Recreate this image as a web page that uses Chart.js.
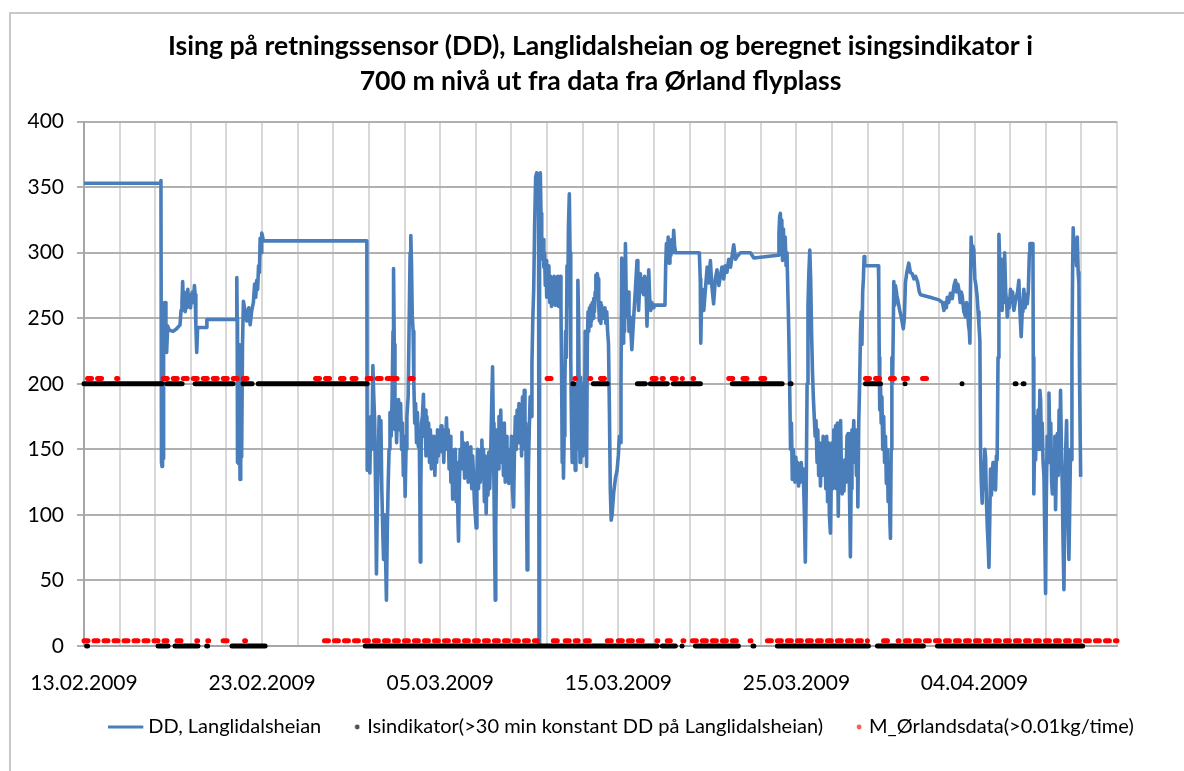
<!DOCTYPE html>
<html lang="no">
<head>
<meta charset="utf-8">
<title>Ising på retningssensor (DD), Langlidalsheian</title>
<script src="https://cdn.jsdelivr.net/npm/chart.js@4.4.1/dist/chart.umd.min.js"></script>
<style>
  html, body { margin: 0; padding: 0; background: #fff; overflow: hidden; }
  #wrap { position: relative; width: 1260px; height: 771px; }
  #frame { position: absolute; left: 9px; top: 12px; width: 1400px; height: 900px;
           border-left: 2px solid #c8c8c8; border-top: 2px solid #c8c8c8; pointer-events: none; }
</style>
</head>
<body>
<div id="wrap">
  <canvas id="chart" width="1260" height="771"></canvas>
  <div id="frame"></div>
</div>
<script>
// x values are days after 13.02.2009 00:00
const startDate = Date.UTC(2009, 1, 13);
const axisDays = 58;

const titleLines = [
  "Ising på retningssensor (DD), Langlidalsheian og beregnet isingsindikator i",
  "700 m nivå ut fra data fra Ørland flyplass"
];
const seriesNames = [
  "DD, Langlidalsheian",
  "Isindikator(>30 min konstant DD på Langlidalsheian)",
  "M_Ørlandsdata(>0.01kg/time)"
];

// wind direction DD at Langlidalsheian, [day, degrees]
const ddTrace = [
  [0, 353], [4.28, 353], [4.32, 355], [4.35, 140], [4.38, 137], [4.41, 262], [4.44, 143], [4.47, 258], [4.52, 240],
  [4.56, 262], [4.6, 236], [4.64, 224], [4.7, 244], [4.78, 241], [5.0, 240], [5.2, 242], [5.39, 245], [5.45, 256],
  [5.5, 262], [5.54, 278], [5.58, 258], [5.63, 270], [5.68, 255], [5.73, 265], [5.78, 258], [5.83, 272], [5.88, 260],
  [5.93, 268], [5.98, 258], [6.03, 265], [6.08, 270], [6.14, 262], [6.2, 275], [6.24, 268], [6.28, 245], [6.33, 224],
  [6.38, 243], [6.88, 243], [6.9, 249], [8.55, 249], [8.58, 281], [8.6, 250], [8.62, 140], [8.65, 200], [8.68, 139],
  [8.72, 230], [8.76, 127], [8.8, 180], [8.85, 144], [8.9, 230], [8.95, 263], [9.05, 255], [9.14, 248], [9.25, 258],
  [9.33, 245], [9.42, 256], [9.51, 262], [9.58, 276], [9.64, 266], [9.7, 279], [9.75, 272], [9.8, 290], [9.85, 285],
  [9.89, 311], [9.94, 300], [9.98, 315], [10.03, 312], [10.07, 309], [15.88, 309],
  [15.9, 134], [15.95, 167], [16.0, 140], [16.05, 132], [16.1, 175], [16.16, 150], [16.22, 214], [16.27, 190],
  [16.32, 172], [16.37, 120], [16.42, 55], [16.47, 110], [16.52, 142], [16.57, 175], [16.62, 160], [16.67, 172],
  [16.72, 120], [16.78, 85], [16.82, 66], [16.88, 100], [16.93, 70], [16.98, 35], [17.03, 90], [17.08, 124],
  [17.13, 150], [17.18, 178], [17.25, 160], [17.3, 190], [17.35, 240], [17.38, 288], [17.42, 230], [17.46, 165],
  [17.5, 188], [17.55, 155], [17.6, 180], [17.66, 188], [17.72, 165], [17.78, 185], [17.83, 150], [17.88, 170],
  [17.93, 130], [17.98, 160], [18.03, 114], [18.08, 150], [18.13, 175], [18.2, 190], [18.26, 250], [18.31, 300],
  [18.35, 313], [18.39, 290], [18.43, 252], [18.48, 240], [18.52, 200], [18.57, 170], [18.62, 185], [18.67, 155],
  [18.72, 178], [18.77, 152], [18.82, 165], [18.86, 110], [18.88, 64], [18.91, 120], [18.95, 170], [19.0, 175],
  [19.06, 192], [19.1, 160], [19.15, 180], [19.2, 145], [19.25, 175], [19.3, 150], [19.35, 170], [19.4, 140],
  [19.45, 165], [19.5, 135], [19.55, 160], [19.6, 145], [19.65, 160], [19.7, 130], [19.75, 155], [19.8, 140],
  [19.85, 165], [19.9, 145], [19.95, 160], [20.0, 150], [20.05, 168], [20.1, 148], [20.15, 162], [20.2, 140],
  [20.25, 165], [20.3, 150], [20.35, 174], [20.4, 155], [20.45, 165], [20.5, 135], [20.55, 160], [20.6, 125],
  [20.65, 150], [20.7, 112], [20.75, 145], [20.8, 120], [20.85, 150], [20.9, 110], [20.95, 140], [21.0, 95],
  [21.03, 80], [21.07, 120], [21.12, 150], [21.17, 140], [21.22, 163], [21.27, 135], [21.32, 155], [21.37, 128],
  [21.42, 150], [21.47, 130], [21.52, 155], [21.57, 125], [21.62, 148], [21.67, 135], [21.72, 152], [21.77, 120],
  [21.82, 145], [21.87, 130], [21.92, 110], [21.97, 100], [22.02, 90], [22.06, 130], [22.1, 150], [22.15, 120],
  [22.2, 145], [22.25, 125], [22.3, 150], [22.34, 157], [22.38, 135], [22.43, 150], [22.48, 110], [22.53, 145],
  [22.58, 101], [22.63, 140], [22.68, 115], [22.73, 148], [22.78, 120], [22.84, 150], [22.9, 190], [22.94, 213],
  [22.98, 170], [23.02, 120], [23.06, 70], [23.09, 35], [23.12, 90], [23.16, 140], [23.2, 165], [23.25, 135],
  [23.3, 175], [23.35, 150], [23.4, 180], [23.45, 140], [23.5, 165], [23.55, 130], [23.6, 170], [23.65, 125],
  [23.7, 160], [23.75, 135], [23.8, 150], [23.85, 124], [23.9, 150], [23.95, 130], [24.0, 160], [24.05, 120],
  [24.12, 106], [24.17, 150], [24.22, 175], [24.27, 150], [24.32, 180], [24.37, 155], [24.42, 185], [24.47, 160],
  [24.52, 175], [24.57, 145], [24.62, 190], [24.67, 160], [24.72, 195], [24.76, 150], [24.8, 170], [24.84, 120],
  [24.88, 58], [24.92, 100], [24.96, 140], [25.0, 165], [25.05, 190], [25.1, 175], [25.15, 215], [25.2, 250],
  [25.25, 272], [25.3, 320], [25.36, 358], [25.42, 361], [25.48, 356], [25.52, 360], [25.55, 0], [25.58, 352],
  [25.62, 361], [25.66, 330], [25.7, 312], [25.74, 295], [25.78, 310], [25.82, 289], [25.86, 300], [25.9, 275],
  [25.94, 294], [25.98, 266], [26.02, 285], [26.06, 270], [26.1, 290], [26.15, 262], [26.2, 282], [26.25, 259],
  [26.3, 278], [26.35, 262], [26.4, 282], [26.45, 260], [26.5, 275], [26.55, 265], [26.6, 282], [26.65, 259],
  [26.7, 270], [26.74, 282], [26.78, 260], [26.82, 200], [26.85, 140], [26.88, 180], [26.92, 128], [26.96, 160],
  [27.0, 200], [27.04, 240], [27.08, 220], [27.12, 290], [27.16, 260], [27.2, 320], [27.25, 345], [27.29, 300],
  [27.33, 220], [27.37, 170], [27.41, 140], [27.45, 190], [27.5, 160], [27.54, 200], [27.58, 134], [27.62, 180],
  [27.66, 150], [27.7, 200], [27.73, 279], [27.77, 250], [27.81, 180], [27.85, 140], [27.89, 205], [27.93, 150],
  [27.97, 190], [28.01, 145], [28.05, 200], [28.1, 160], [28.14, 240], [28.18, 220], [28.22, 137], [28.26, 230],
  [28.3, 255], [28.34, 240], [28.38, 258], [28.42, 244], [28.46, 260], [28.5, 248], [28.54, 262], [28.58, 250],
  [28.62, 265], [28.66, 255], [28.7, 270], [28.74, 283], [28.78, 282], [28.82, 284], [28.86, 280], [28.9, 260],
  [28.94, 248], [28.98, 262], [29.02, 246], [29.06, 260], [29.1, 250], [29.14, 255], [29.2, 250], [29.25, 258],
  [29.3, 246], [29.35, 255], [29.4, 240], [29.45, 230], [29.5, 180], [29.55, 120], [29.6, 96], [29.65, 100],
  [29.74, 117], [29.84, 128], [29.93, 134], [30.0, 145], [30.06, 160], [30.11, 155], [30.15, 200], [30.19, 296],
  [30.23, 250], [30.27, 231], [30.3, 269], [30.35, 240], [30.4, 307], [30.45, 260], [30.5, 251], [30.55, 270],
  [30.6, 240], [30.67, 251], [30.76, 226], [30.86, 250], [30.96, 272], [31.05, 294], [31.1, 270], [31.14, 256],
  [31.2, 275], [31.24, 284], [31.3, 270], [31.36, 280], [31.42, 268], [31.48, 282], [31.55, 277], [31.61, 244],
  [31.66, 270], [31.71, 287], [31.76, 266], [31.82, 256], [31.88, 262], [31.95, 258], [32.0, 260], [32.62, 260],
  [32.66, 290], [32.7, 307], [32.75, 295], [32.8, 312], [32.85, 292], [32.9, 305], [32.95, 298], [33.0, 310],
  [33.06, 300], [33.11, 317], [33.16, 305], [33.22, 300], [34.55, 300], [34.6, 280], [34.63, 231], [34.67, 260],
  [34.72, 272], [34.8, 256], [34.9, 274], [34.99, 289], [35.08, 277], [35.17, 294], [35.25, 275], [35.35, 261],
  [35.45, 280], [35.54, 287], [35.65, 275], [35.73, 282], [35.82, 289], [35.92, 280], [36.0, 290], [36.1, 285],
  [36.2, 295], [36.3, 289], [36.48, 306], [36.58, 295], [36.67, 297], [36.86, 300], [37.42, 300], [37.61, 296],
  [38.98, 298], [39.02, 315], [39.06, 328],
  [39.1, 330], [39.14, 300], [39.18, 325], [39.22, 294], [39.27, 318], [39.32, 295], [39.37, 312], [39.42, 290],
  [39.47, 300], [39.52, 270], [39.57, 240], [39.62, 200], [39.67, 150], [39.72, 170], [39.77, 127], [39.82, 150],
  [39.87, 140], [39.92, 125], [39.97, 144], [40.02, 130], [40.07, 140], [40.12, 122], [40.17, 138], [40.22, 125],
  [40.27, 140], [40.32, 128], [40.37, 135], [40.4, 125], [40.45, 100], [40.5, 64], [40.55, 120], [40.6, 200],
  [40.65, 260], [40.7, 285], [40.75, 302], [40.8, 280], [40.85, 240], [40.9, 210], [40.95, 190], [41.0, 175],
  [41.05, 160], [41.1, 172], [41.16, 140], [41.2, 165], [41.25, 130], [41.3, 155], [41.35, 122], [41.4, 150],
  [41.45, 130], [41.5, 160], [41.55, 135], [41.6, 150], [41.65, 120], [41.7, 160], [41.75, 110], [41.8, 155],
  [41.85, 100], [41.91, 86], [41.96, 130], [42.0, 155], [42.05, 120], [42.1, 165], [42.15, 140], [42.2, 168],
  [42.25, 120], [42.3, 170], [42.35, 99], [42.4, 160], [42.45, 130], [42.48, 172], [42.52, 140], [42.57, 116],
  [42.62, 140], [42.67, 118], [42.72, 142], [42.78, 125], [42.84, 160], [42.9, 162], [42.95, 140], [43.0, 100],
  [43.03, 68], [43.07, 120], [43.12, 165], [43.17, 150], [43.22, 172], [43.27, 140], [43.32, 165], [43.37, 130],
  [43.42, 150], [43.45, 106], [43.5, 170], [43.55, 200], [43.6, 240], [43.64, 255], [43.68, 230], [43.72, 270],
  [43.76, 280], [43.8, 297], [43.84, 290], [44.6, 290], [44.62, 280], [44.65, 220], [44.68, 180], [44.72, 200],
  [44.76, 170], [44.8, 190], [44.85, 150], [44.9, 175], [44.95, 140], [45.0, 160], [45.05, 124], [45.1, 150],
  [45.15, 110], [45.2, 140], [45.25, 95], [45.28, 82], [45.32, 150], [45.36, 220], [45.4, 200], [45.47, 278],
  [45.52, 260], [45.56, 275], [45.65, 267], [45.72, 262], [45.8, 256], [45.9, 250], [46.0, 242], [46.06, 250],
  [46.12, 277], [46.2, 285], [46.31, 292], [46.4, 285], [46.5, 284], [46.6, 280], [46.69, 282], [46.8, 278],
  [46.9, 270], [46.97, 268], [47.5, 266], [48.0, 264], [48.2, 262], [48.28, 256], [48.35, 262], [48.42, 258],
  [48.47, 266], [48.55, 262], [48.65, 269], [48.75, 265], [48.85, 275], [48.93, 279], [49.0, 270], [49.06, 276],
  [49.12, 272], [49.2, 262], [49.26, 270], [49.31, 267], [49.4, 255], [49.5, 251], [49.55, 262], [49.6, 259],
  [49.66, 245], [49.71, 240], [49.74, 231], [49.78, 280], [49.81, 312], [49.86, 290], [49.91, 305], [49.96, 302],
  [50.02, 280], [50.08, 275], [50.15, 266], [50.2, 255], [50.25, 245], [50.3, 233], [50.34, 150], [50.38, 125],
  [50.43, 109], [50.48, 140], [50.53, 120], [50.58, 150], [50.62, 144], [50.67, 110], [50.72, 90], [50.77, 75],
  [50.81, 60], [50.86, 100], [50.9, 135], [50.95, 115], [50.99, 129], [51.04, 140], [51.09, 120], [51.14, 135],
  [51.18, 119], [51.23, 145], [51.27, 142], [51.32, 220], [51.37, 314], [51.42, 290], [51.47, 270], [51.51, 295],
  [51.55, 256], [51.6, 280], [51.65, 262], [51.69, 300], [51.75, 270], [51.8, 262], [51.84, 251], [51.9, 265],
  [51.96, 258], [52.02, 272], [52.08, 262], [52.14, 270], [52.21, 256], [52.28, 262], [52.36, 267], [52.42, 270],
  [52.49, 279], [52.55, 255], [52.62, 236], [52.68, 255], [52.72, 262], [52.77, 272], [52.84, 258], [52.9, 268],
  [52.96, 261], [53.02, 270], [53.08, 300], [53.11, 307], [53.28, 307], [53.3, 220], [53.33, 116], [53.38, 160],
  [53.43, 142], [53.48, 175], [53.52, 155], [53.57, 180], [53.62, 150], [53.67, 195], [53.71, 188], [53.76, 150],
  [53.8, 170], [53.85, 140], [53.9, 129], [53.94, 90], [53.99, 40], [54.03, 110], [54.08, 160], [54.13, 140],
  [54.18, 193], [54.23, 150], [54.28, 170], [54.33, 125], [54.37, 116], [54.42, 150], [54.47, 130], [54.51, 160],
  [54.55, 104], [54.6, 140], [54.65, 162], [54.7, 130], [54.75, 180], [54.79, 150], [54.83, 195], [54.88, 150],
  [54.93, 120], [54.97, 80], [55.02, 43], [55.07, 110], [55.12, 150], [55.17, 172], [55.22, 120], [55.26, 90],
  [55.3, 66], [55.35, 110], [55.39, 150], [55.43, 142], [55.47, 220], [55.51, 290], [55.54, 319], [55.59, 300],
  [55.64, 310], [55.68, 302], [55.73, 290], [55.77, 312], [55.82, 285], [55.86, 277], [55.9, 200], [55.96, 129]
];

// ice indicator: 200 while DD has been constant > 30 min, else 0. [first day, last day]
const iceLevelOn = 200;
const iceLevelOff = 0;
const iceOnRuns = [
  [0, 4.38], [4.66, 5.51], [6.24, 8.37], [8.93, 9.44], [9.78, 15.9], [27.45, 27.5], [28.6, 29.38], [31.07, 31.52],
  [31.8, 32.75], [33.09, 34.61], [36.4, 39.2], [39.65, 39.7], [43.88, 44.72], [46.1, 46.15], [49.3, 49.35],
  [52.28, 52.33], [52.73, 52.78]
];
const iceOffRuns = [
  [0.15, 0.2], [4.16, 4.72], [5.11, 6.4], [6.89, 6.94], [8.31, 10.17], [15.79, 32.19], [32.47, 33.2], [33.58, 33.63],
  [34.33, 36.74], [37.56, 37.61], [38.93, 44.04], [44.55, 47.13], [47.92, 56.07]
];

// Ørland icing model, drawn just above the indicator levels
const orlandLevelOn = 204;
const orlandLevelOff = 4;
const orlandOnRuns = [
  [0.2, 1.3], [1.83, 1.9], [4.45, 9.15], [13.0, 14.0], [14.4, 14.6], [15.05, 15.3], [15.9, 17.2], [17.35, 17.6],
  [18.31, 18.48], [26.0, 26.46], [27.56, 27.6], [28.41, 28.45], [29.0, 29.55], [31.9, 32.53], [33.03, 33.6],
  [34.19, 34.23], [36.2, 36.55], [37.0, 37.45], [38.0, 38.43], [43.88, 44.72], [45.28, 45.67], [46.01, 46.29],
  [47.08, 47.42]
];
const orlandOffRuns = [
  [0, 4.66], [5.22, 5.56], [6.33, 6.38], [6.95, 7.0], [7.81, 8.2], [9.02, 9.07], [13.5, 25.45], [26.35, 26.74],
  [27.02, 27.75], [28.15, 28.71], [29.38, 29.94], [30.0, 31.63], [32.17, 32.22], [32.75, 32.92], [33.63, 33.68],
  [34.16, 36.69], [37.4, 37.45], [38.37, 43.99], [44.89, 45.28], [45.71, 45.76], [46.12, 58.0]
];

const DD_COLOR = "#4a7ebb";
const ICE_COLOR = "#000000";
const ORLAND_COLOR = "#ff0000";

function dateLabel(day) {
  const d = new Date(startDate + day * 86400000);
  const dd = String(d.getUTCDate()).padStart(2, "0");
  const mm = String(d.getUTCMonth() + 1).padStart(2, "0");
  return dd + "." + mm + "." + d.getUTCFullYear();
}

// each run becomes a start and end point, then a gap
function runsToPoints(runs, level) {
  const pts = [];
  runs.forEach(([a, b]) => {
    pts.push({x: a, y: level}, {x: b, y: level}, {x: b, y: null});
  });
  return pts;
}

function symbolCanvas(w, h, paint) {
  const c = document.createElement("canvas");
  c.width = w;
  c.height = h;
  paint(c.getContext("2d"));
  return c;
}
// legend symbols sit in a 12px box; the canvases may spill over its left side
const ddSymbol = symbolCanvas(48, 4, g => { g.fillStyle = DD_COLOR; g.fillRect(0, 0.5, 35, 3); });
const iceSymbol = symbolCanvas(18, 8, g => {
  g.fillStyle = "#505050"; g.beginPath(); g.arc(15, 4, 2.4, 0, Math.PI * 2); g.fill();
});
const orlandSymbol = symbolCanvas(18, 8, g => {
  g.fillStyle = "#ff5a5a"; g.beginPath(); g.arc(15, 4, 2.4, 0, Math.PI * 2); g.fill();
});

const dotLine = {
  showLine: true,
  pointRadius: 0,
  borderWidth: 5,
  borderCapStyle: "round",
  clip: 6
};

Chart.defaults.font.family = "Lato, 'Liberation Sans', sans-serif";
Chart.defaults.color = "#000";

new Chart(document.getElementById("chart"), {
  type: "line",
  data: {
    datasets: [
      {
        label: seriesNames[0],
        data: ddTrace.map(([d, v]) => ({x: d, y: v})),
        borderColor: DD_COLOR,
        borderWidth: 3.6,
        borderJoinStyle: "round",
        pointRadius: 0,
        order: 3
      },
      Object.assign({label: seriesNames[1], data: runsToPoints(iceOnRuns, iceLevelOn), borderColor: ICE_COLOR, order: 2}, dotLine),
      Object.assign({label: seriesNames[1], data: runsToPoints(iceOffRuns, iceLevelOff), borderColor: ICE_COLOR, order: 2}, dotLine),
      Object.assign({label: seriesNames[2], data: runsToPoints(orlandOnRuns, orlandLevelOn), borderColor: ORLAND_COLOR, borderDash: [4, 6], order: 1}, dotLine),
      Object.assign({label: seriesNames[2], data: runsToPoints(orlandOffRuns, orlandLevelOff), borderColor: ORLAND_COLOR, borderDash: [4, 6], order: 1}, dotLine)
    ]
  },
  options: {
    responsive: false,
    animation: false,
    events: [],
    layout: {padding: {top: 29, right: 0, bottom: 24, left: 0}},
    plugins: {
      title: {
        display: true,
        fullSize: false,
        text: titleLines,
        color: "#000",
        font: {size: 26.6, weight: "bold", lineHeight: 35 / 26.6},
        padding: {top: 0, bottom: 22.6}
      },
      legend: {
        position: "bottom",
        labels: {
          usePointStyle: true,
          boxWidth: 12,
          boxHeight: 12,
          padding: 24,
          color: "#111",
          font: {size: 20},
          generateLabels: () => [
            {text: seriesNames[0], pointStyle: ddSymbol, fillStyle: DD_COLOR, strokeStyle: DD_COLOR, lineWidth: 0, hidden: false, datasetIndex: 0},
            {text: seriesNames[1], pointStyle: iceSymbol, fillStyle: ICE_COLOR, strokeStyle: ICE_COLOR, lineWidth: 0, hidden: false, datasetIndex: 1},
            {text: seriesNames[2], pointStyle: orlandSymbol, fillStyle: ORLAND_COLOR, strokeStyle: ORLAND_COLOR, lineWidth: 0, hidden: false, datasetIndex: 3}
          ]
        }
      },
      tooltip: {enabled: false}
    },
    scales: {
      x: {
        type: "linear",
        min: 0,
        max: axisDays,
        grid: {color: "#d8d8d8", lineWidth: 2, drawTicks: false},
        border: {color: "#a6a6a6", width: 2},
        ticks: {
          stepSize: 2,
          autoSkip: false,
          maxRotation: 0,
          padding: 19.5,
          color: "#000",
          font: {size: 21, lineHeight: 35 / 21},
          callback: v => (v % 10 === 0 ? dateLabel(v) : "")
        },
        // the date row sits close above the legend
        afterFit: s => { s.height = 47; }
      },
      y: {
        min: 0,
        max: 400,
        grid: {color: "#b0b0b0", lineWidth: 2, tickLength: 7},
        border: {color: "#a6a6a6", width: 2},
        ticks: {stepSize: 50, padding: 13, color: "#000", font: {size: 21}},
        afterFit: s => { s.width = 84; }
      },
      // empty right-hand box so the plot stops short of the canvas edge
      yRight: {
        position: "right",
        display: true,
        grid: {display: false},
        border: {display: false},
        ticks: {display: false},
        afterFit: s => { s.width = 1260 - 1117; }
      }
    }
  }
});
</script>
</body>
</html>
